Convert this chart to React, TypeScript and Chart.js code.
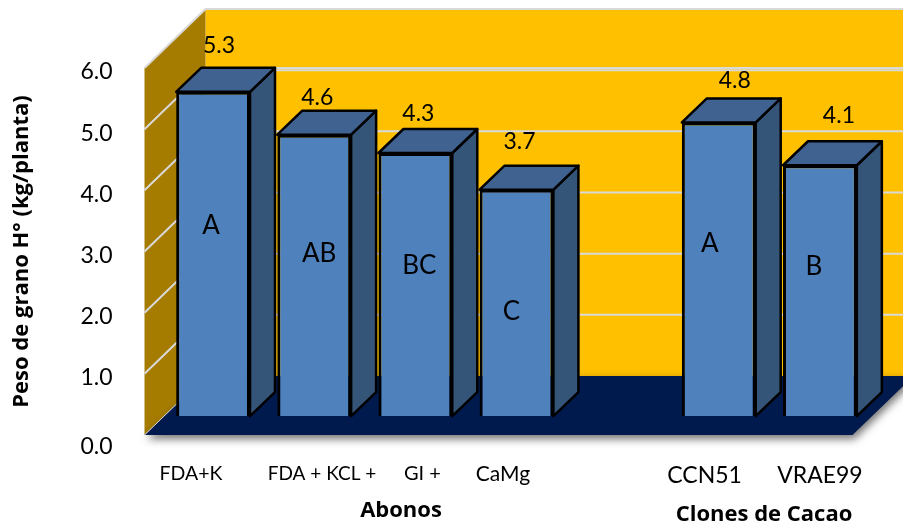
import React, { useEffect, useRef } from "react";
import { Chart, registerables } from "chart.js";

Chart.register(...registerables);

// Bars: four fertiliser treatments, an empty slot, two cacao clones.
const categories = ["FDA+K", "FDA + KCL +", "GI +", "CaMg", "", "CCN51", "VRAE99"];
const grainWeight = [5.3, 4.6, 4.3, 3.7, null, 4.8, 4.1];
const significance = ["A", "AB", "BC", "C", "", "A", "B"];
const yTicks = [0, 1, 2, 3, 4, 5, 6];

// Category labels sit slightly off their bars, expressed in category units.
const xLabelSlots = [-0.218, 1.077, 2.07, 2.866, 4.86, 6.0];
const xLabelTexts = ["FDA+K", "FDA + KCL +", "GI +", "CaMg", "CCN51", "VRAE99"];
const xLabelSizes = [19.5, 19, 20, 21, 23, 23];

// Hand placement of the annotations, relative to each bar (pixels).
const valueNudgeX = [6, 3, 3, 3, 0, 16, 19];
const valueNudgeY = [-46, -37, -39, -48, 0, -42, -50];
const letterNudgeX = [-2, 5, 4, -5, 0, -9, -6];
const letterNudgeY = [-28, -22, -19, 9, 0, -26, -24];

const FONT = "Lato, 'Open Sans', sans-serif";
const BOLD_FONT = "'Open Sans', Lato, sans-serif";
const WALL_DX = 61; // depth of the plot box
const WALL_DY = 59;
const BAR_DX = 25; // depth of each bar
const BAR_DY = 24;
const FRONT_SHIFT = 18; // front plane of the box lies left of the category band

const box3d = {
  id: "box3d",
  beforeDatasetsDraw(chart: any) {
    const { ctx, chartArea, scales } = chart;
    const y = scales.y;
    const x0 = chartArea.left - FRONT_SHIFT;
    const x1 = chartArea.right - FRONT_SHIFT;
    const yBottom = y.getPixelForValue(0);
    const yTop = y.getPixelForValue(6);

    const poly = (pts: number[][], fill: string) => {
      ctx.beginPath();
      pts.forEach(([px, py], i) => (i ? ctx.lineTo(px, py) : ctx.moveTo(px, py)));
      ctx.closePath();
      ctx.fillStyle = fill;
      ctx.fill();
    };

    ctx.save();
    // back wall with its light top edge
    poly(
      [
        [x0 + WALL_DX, yTop - WALL_DY],
        [x1 + WALL_DX, yTop - WALL_DY],
        [x1 + WALL_DX, yBottom - WALL_DY],
        [x0 + WALL_DX, yBottom - WALL_DY],
      ],
      "#FFC000"
    );
    // side wall
    poly(
      [
        [x0, yTop],
        [x0 + WALL_DX, yTop - WALL_DY],
        [x0 + WALL_DX, yBottom - WALL_DY],
        [x0, yBottom],
      ],
      "#A67C00"
    );
    ctx.strokeStyle = "#D9D9D9";
    ctx.lineWidth = 2;
    ctx.beginPath();
    ctx.moveTo(x0, yTop);
    ctx.lineTo(x0 + WALL_DX, yTop - WALL_DY);
    ctx.lineTo(x1 + WALL_DX, yTop - WALL_DY);
    ctx.stroke();

    // grid lines run along the side wall and across the back wall
    yTicks.forEach((v) => {
      if (v === 0 || v === 6) return;
      const py = y.getPixelForValue(v);
      ctx.beginPath();
      ctx.moveTo(x0, py);
      ctx.lineTo(x0 + WALL_DX, py - WALL_DY);
      ctx.lineTo(x1 + WALL_DX, py - WALL_DY);
      ctx.stroke();
    });
    ctx.beginPath();
    ctx.moveTo(x0 + WALL_DX, yTop);
    ctx.lineTo(x1 + WALL_DX, yTop);
    ctx.lineWidth = 2;
    ctx.stroke();

    // floor with its soft drop shadow
    ctx.save();
    ctx.shadowColor = "rgba(0,0,0,0.55)";
    ctx.shadowBlur = 9;
    ctx.shadowOffsetX = 2;
    ctx.shadowOffsetY = 4;
    poly(
      [
        [x0, yBottom],
        [x0 + WALL_DX, yBottom - WALL_DY],
        [x1 + WALL_DX, yBottom - WALL_DY],
        [x1, yBottom],
      ],
      "#001A4D"
    );
    ctx.restore();
    ctx.strokeStyle = "#D9D9D9";
    ctx.lineWidth = 1;
    ctx.beginPath();
    ctx.moveTo(x0, yBottom);
    ctx.lineTo(x0 + WALL_DX, yBottom - WALL_DY);
    ctx.stroke();

    // side and top faces of every bar; the fronts are drawn by the library
    ctx.lineJoin = "round";
    ctx.lineWidth = 2.5;
    ctx.strokeStyle = "#000000";
    const faces = (pts: number[][], fill: string) => {
      poly(pts, fill);
      ctx.stroke();
    };
    chart.getDatasetMeta(0).data.forEach((bar: any, i: number) => {
      if (grainWeight[i] == null) return;
      const { x, y: top, base, width } = bar.getProps(["x", "y", "base", "width"], true);
      const l = x - width / 2;
      const r = x + width / 2;
      faces(
        [
          [r, top],
          [r + BAR_DX, top - BAR_DY],
          [r + BAR_DX, base - BAR_DY],
          [r, base],
        ],
        "#345478"
      );
      faces(
        [
          [l, top],
          [l + BAR_DX, top - BAR_DY],
          [r + BAR_DX, top - BAR_DY],
          [r, top],
        ],
        "#3F6290"
      );
    });
    ctx.restore();
  },
  afterDatasetsDraw(chart: any) {
    const { ctx } = chart;
    ctx.save();
    ctx.fillStyle = "#000000";
    ctx.textAlign = "center";
    ctx.textBaseline = "middle";
    chart.getDatasetMeta(0).data.forEach((bar: any, i: number) => {
      const value = grainWeight[i];
      if (value == null) return;
      const { x, y: top, base } = bar.getProps(["x", "y", "base"], true);
      ctx.font = `23px ${FONT}`;
      ctx.fillText(value.toFixed(1), x + valueNudgeX[i], top + valueNudgeY[i]);
      ctx.font = `26px ${FONT}`;
      ctx.fillText(significance[i], x + letterNudgeX[i], (top + base) / 2 + letterNudgeY[i]);
    });
    // group captions under the category labels
    ctx.font = `bold 22px ${BOLD_FONT}`;
    ctx.fillText("Abonos", 401, 511);
    ctx.fillText("Clones de Cacao", 764, 515);
    ctx.restore();
  },
};

export default function App() {
  const ref = useRef<HTMLCanvasElement | null>(null);

  useEffect(() => {
    if (!ref.current) return;
    const chart = new Chart(ref.current, {
      type: "bar",
      data: {
        labels: categories,
        datasets: [
          {
            data: grainWeight,
            yAxisID: "yBars",
            xAxisID: "x",
            backgroundColor: "#4F81BD",
            borderColor: "#000000",
            borderWidth: 3,
            barPercentage: 0.73,
            categoryPercentage: 1,
          },
        ],
      },
      options: {
        responsive: false,
        animation: false,
        layout: { autoPadding: false, padding: { top: 68, right: 32.5, bottom: 0, left: 0 } },
        plugins: { legend: { display: false }, tooltip: { enabled: false } },
        scales: {
          x: { type: "category", display: false, grid: { display: false } },
          xLabels: {
            type: "linear",
            position: "bottom",
            offset: false,
            min: -0.5,
            max: 6.5,
            grid: { display: false },
            border: { display: false },
            afterBuildTicks: (s: any) => {
              s.ticks = xLabelSlots.map((value) => ({ value }));
            },
            afterFit: (s: any) => {
              s.height = 93;
            },
            ticks: {
              autoSkip: false,
              maxRotation: 0,
              padding: 19,
              color: "#000000",
              font: (c: any) => ({ family: FONT, size: xLabelSizes[c.index] ?? 19 }),
              callback: (_v: any, i: number) => xLabelTexts[i],
            },
          },
          y: {
            position: "left",
            min: 0,
            max: 6,
            grid: { display: false },
            border: { display: false },
            afterBuildTicks: (s: any) => {
              // the zero label hangs a little below the floor corner
              s.ticks = yTicks.map((v) => ({ value: v === 0 ? -0.13 : v }));
            },
            afterFit: (s: any) => {
              s.width = 162.5;
            },
            ticks: {
              padding: 42,
              labelOffset: 4,
              color: "#000000",
              font: { family: FONT, size: 23 },
              callback: (_v: any, i: number) => yTicks[i].toFixed(1),
            },
            title: {
              display: true,
              text: "Peso de grano H° (kg/planta)",
              color: "#000000",
              font: { family: BOLD_FONT, size: 22, weight: "bold" },
              padding: { top: 9, bottom: 0 },
            },
          },
          // bars stand on the floor, inset from the front edge of the box
          yBars: { position: "left", display: false, min: -0.31, max: 5.69 },
        },
      },
      plugins: [box3d],
    } as any);
    return () => chart.destroy();
  }, []);

  return (
    <div style={{ position: "absolute", left: 0, top: 0, width: 903, height: 528 }}>
      <canvas ref={ref} width={903} height={528} style={{ display: "block" }} />
    </div>
  );
}
